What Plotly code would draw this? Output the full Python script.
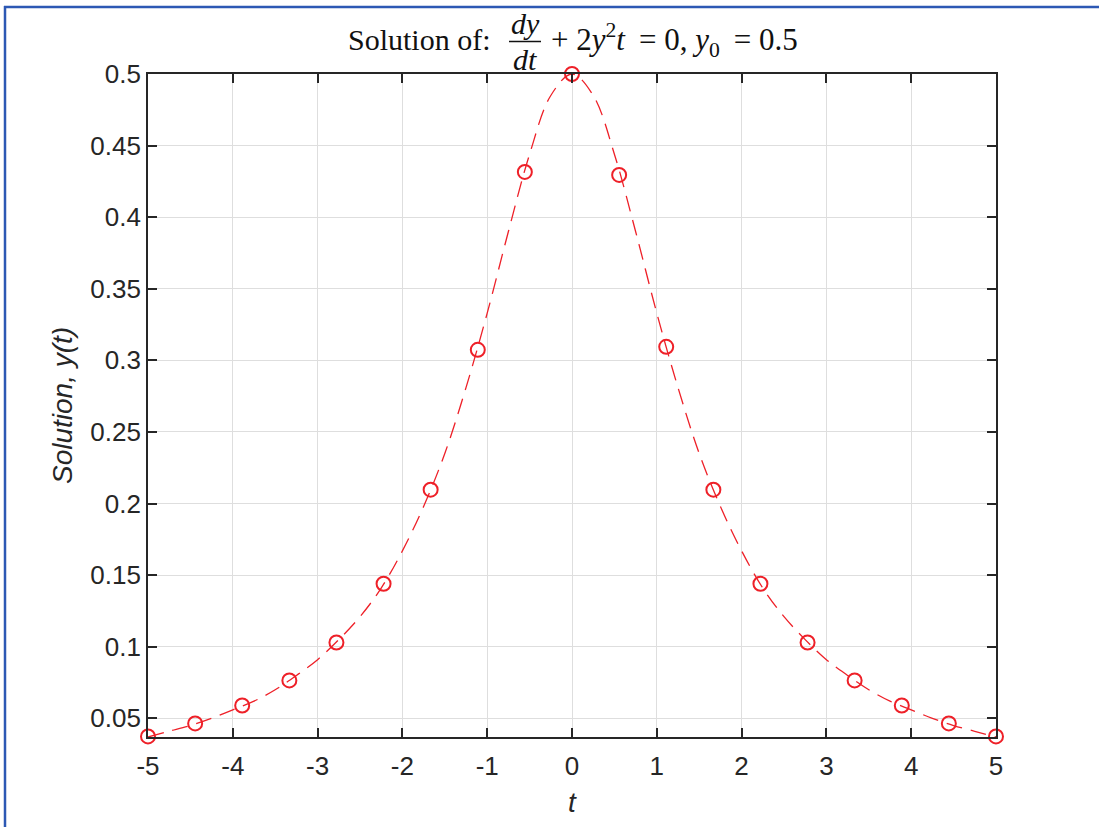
import plotly.graph_objects as go

# Marker (numerical solution) values
t_pts = [-5, -4.444, -3.889, -3.333, -2.778, -2.222, -1.667, -1.111, -0.556, 0,
         0.556, 1.111, 1.667, 2.222, 2.778, 3.333, 3.889, 4.444, 5]
y_pts = [0.0374, 0.0465, 0.059, 0.0765, 0.103, 0.144, 0.2097, 0.3074, 0.4316, 0.5,
         0.4295, 0.3095, 0.2097, 0.144, 0.103, 0.0765, 0.059, 0.0465, 0.0374]

# Dashed curve values
t_line = [-5, -4.75, -4.5, -4.25, -4, -3.75, -3.5, -3.25, -3, -2.75, -2.5, -2.25, -2,
          -1.75, -1.5, -1.25, -1, -0.75, -0.5, -0.25, 0,
          0.25, 0.5, 0.75, 1, 1.25, 1.5, 1.75, 2, 2.25, 2.5, 2.75, 3, 3.25, 3.5,
          3.75, 4, 4.25, 4.5, 4.75, 5]
y_line = [0.037, 0.041, 0.045, 0.050, 0.056, 0.062, 0.070, 0.080, 0.091, 0.105, 0.121,
          0.141, 0.167, 0.198, 0.235, 0.281, 0.333, 0.390, 0.444, 0.485, 0.5,
          0.485, 0.444, 0.390, 0.333, 0.281, 0.235, 0.198, 0.167, 0.141, 0.121,
          0.105, 0.091, 0.080, 0.070, 0.062, 0.056, 0.050, 0.045, 0.041, 0.037]

x_ticks = [-5, -4, -3, -2, -1, 0, 1, 2, 3, 4, 5]
y_ticks = [0.05, 0.1, 0.15, 0.2, 0.25, 0.3, 0.35, 0.4, 0.45, 0.5]

RED = "#ee2028"
AX = "#262626"
W, H = 1099, 827
L, R, T, B = 148, 996, 74, 737


def px(x):
    return (x - L) / (R - L)


def py(y):
    return (B - y) / (B - T)


fig = go.Figure()
fig.add_trace(go.Scatter(x=t_line, y=y_line, mode="lines", line_shape="spline",
                         line=dict(color=RED, width=1.3, dash="16px,9px"),
                         hoverinfo="skip", showlegend=False))
fig.add_trace(go.Scatter(x=t_pts, y=y_pts, mode="markers", cliponaxis=False,
                         marker=dict(symbol="circle-open", size=14, color=RED,
                                     line=dict(color=RED, width=2)),
                         showlegend=False))

axis_common = dict(showline=True, linecolor=AX, linewidth=1.8, mirror="ticks",
                   ticks="inside", ticklen=9, tickwidth=1.8, tickcolor=AX,
                   showgrid=True, gridcolor="#dedede", gridwidth=1, zeroline=False,
                   tickfont=dict(family="Liberation Sans, Arial", size=26, color=AX))

fig.update_xaxes(range=[-5, 5], tickvals=x_ticks, ticktext=[str(v) for v in x_ticks],
                 ticklabelstandoff=5, **axis_common)
fig.update_yaxes(range=[0.037, 0.5], tickvals=y_ticks,
                 ticktext=[f"{v:g}" for v in y_ticks], **axis_common)

serif = dict(family="Liberation Serif, Times New Roman, serif", size=30, color="#111111")
serif_r = dict(family="Liberation Serif, Times New Roman, serif", size=31, color="#111111")
sans_it = dict(family="Liberation Sans, Arial", size=28, color=AX)

annotations = [
    dict(text="Solution of:", x=px(493), y=py(40), xanchor="right", yanchor="middle",
         font=serif),
    dict(text="<i>dy</i>", x=px(525), y=py(23), xanchor="center", yanchor="middle",
         font=serif),
    dict(text="<i>dt</i>", x=px(525), y=py(59), xanchor="center", yanchor="middle",
         font=serif),
    dict(text="+ 2<i>y</i><sup>2</sup><i>t</i>&#8201; = 0, <i>y</i><sub>0</sub>&#8201; = 0.5",
         x=px(549), y=py(40), xanchor="left", yanchor="middle", font=serif_r),
    dict(text="<i>Solution, y(t)</i>", x=px(62), y=py(406), textangle=-90,
         xanchor="center", yanchor="middle", font=sans_it),
    dict(text="<i>t</i>", x=px(572), y=py(802), xanchor="center", yanchor="middle",
         font=sans_it),
]
for a in annotations:
    a.update(xref="paper", yref="paper", showarrow=False)

shapes = [
    # fraction bar
    dict(type="line", x0=px(509), x1=px(541), y0=py(41.5), y1=py(41.5),
         line=dict(color="#111111", width=1.5)),
    # figure window border (blue)
    dict(type="line", x0=px(4), x1=px(1100), y0=py(7), y1=py(7),
         line=dict(color="#2c58b4", width=2.5)),
    dict(type="line", x0=px(5), x1=px(5), y0=py(6), y1=py(828),
         line=dict(color="#2c58b4", width=2.5)),
]
for s in shapes:
    s.update(xref="paper", yref="paper")

fig.update_layout(width=W, height=H, margin=dict(l=L, r=W - R, t=T, b=H - B),
                  paper_bgcolor="white", plot_bgcolor="white",
                  annotations=annotations, shapes=shapes, showlegend=False)

fig.write_html("out.html", config={"displayModeBar": False},
               post_script="document.body.style.margin='0';"
                           "document.body.style.overflow='hidden';")
